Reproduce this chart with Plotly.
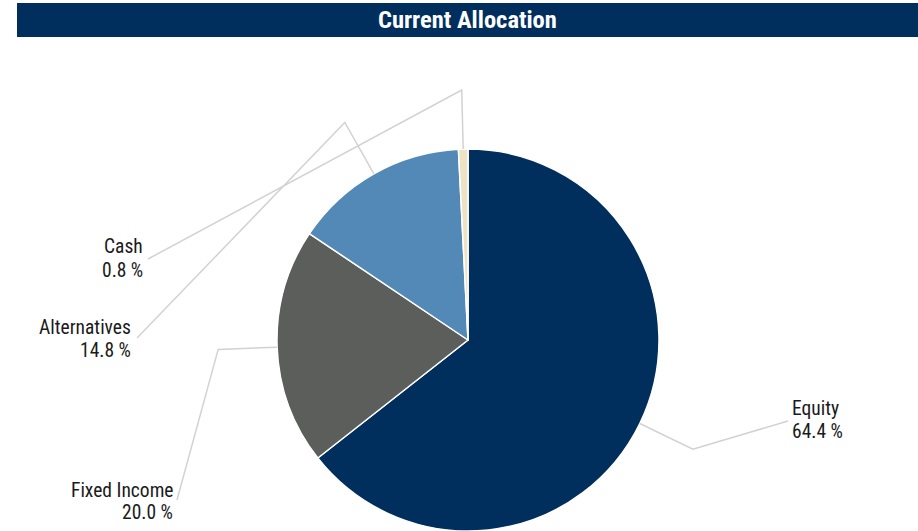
import math
import plotly.graph_objects as go

# ---- data ----
labels = ["Equity", "Fixed Income", "Alternatives", "Cash"]
values = [64.4, 20.0, 14.8, 0.8]
colors = ["#002F5E", "#5C5E5B", "#5289B7", "#EEE2C4"]
title_text = "Current Allocation"

# ---- layout constants (pixels) ----
W, H = 918, 531
CX, CY, R = 468, 340, 191
R_ELBOW = 250
FONT = "Liberation Sans Narrow, Arial Narrow, Roboto Condensed, Liberation Sans, Arial, sans-serif"
LINE_COLOR = "#D2D2D2"

# label anchor (end of leader line) and text placement per slice
label_pos = {
    "Equity":       dict(end=(788, 421), tx=790, ty=(408, 431), anchor="left"),
    "Fixed Income": dict(end=(177, 500), tx=175, ty=(490, 512), anchor="right"),
    "Alternatives": dict(end=(137, 338), tx=133, ty=(327, 350), anchor="right"),
    "Cash":         dict(end=(148, 259), tx=145, ty=(247, 270), anchor="right"),
}

def px(x):
    return x / W

def py(y):
    return 1 - y / H

fig = go.Figure()
fig.add_trace(go.Pie(
    labels=labels, values=values, sort=False, direction="clockwise", rotation=0,
    marker=dict(colors=colors, line=dict(color="white", width=1.5)),
    textinfo="none", hoverinfo="label+percent", showlegend=False,
    domain=dict(x=[px(CX - R), px(CX + R)], y=[py(CY + R), py(CY - R)]),
))

shapes = []
annotations = []
# title bar
shapes.append(dict(type="rect", xref="paper", yref="paper",
                   x0=px(17), x1=1, y0=py(37), y1=py(3),
                   fillcolor="#002F5E", line=dict(width=0), layer="below"))
annotations.append(dict(text="<b>" + title_text + "</b>", xref="paper", yref="paper",
                        x=px(467.5), y=py(20), xanchor="center", yanchor="middle",
                        showarrow=False, font=dict(family=FONT, size=24.5, color="white")))

total = sum(values)
cum = 0.0
for lab, val in zip(labels, values):
    mid = (cum + val / 2) / total * 2 * math.pi
    cum += val
    sx, sy = CX + R * math.sin(mid), CY - R * math.cos(mid)
    ex, ey = CX + R_ELBOW * math.sin(mid), CY - R_ELBOW * math.cos(mid)
    p = label_pos[lab]
    lx, ly = p["end"]
    path = f"M {px(sx)},{py(sy)} L {px(ex)},{py(ey)} L {px(lx)},{py(ly)}"
    shapes.append(dict(type="path", xref="paper", yref="paper", path=path,
                       line=dict(color=LINE_COLOR, width=1.5)))
    for txt, ty in zip([lab, f"{val:.1f} %"], p["ty"]):
        annotations.append(dict(text=txt, xref="paper", yref="paper",
                                x=px(p["tx"]), y=py(ty), xanchor=p["anchor"], yanchor="middle",
                                showarrow=False, font=dict(family=FONT, size=19.5, color="#1A1A1A")))

fig.update_layout(
    width=W, height=H, margin=dict(l=0, r=0, t=0, b=0),
    paper_bgcolor="white", plot_bgcolor="white",
    shapes=shapes, annotations=annotations,
)
fig.write_html("out.html", config={"displayModeBar": False},
               post_script="document.body.style.margin='0';")
